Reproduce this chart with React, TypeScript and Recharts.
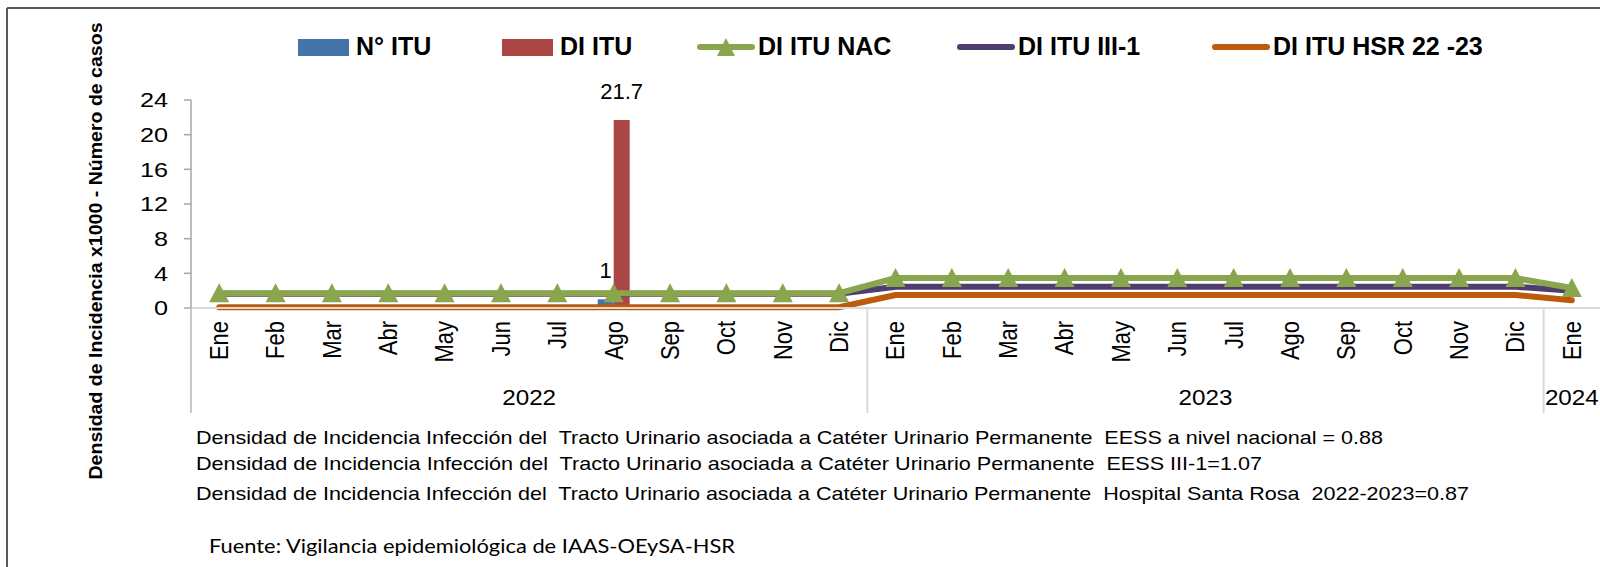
import React from 'react';
import { ComposedChart, Bar, Line, XAxis, YAxis, Legend, LabelList } from 'recharts';

const MONTHS = [
  'Ene', 'Feb', 'Mar', 'Abr', 'May', 'Jun', 'Jul', 'Ago', 'Sep', 'Oct', 'Nov', 'Dic',
  'Ene', 'Feb', 'Mar', 'Abr', 'May', 'Jun', 'Jul', 'Ago', 'Sep', 'Oct', 'Nov', 'Dic',
  'Ene',
];
const YEARS = [
  '2022', '2022', '2022', '2022', '2022', '2022', '2022', '2022', '2022', '2022', '2022', '2022',
  '2023', '2023', '2023', '2023', '2023', '2023', '2023', '2023', '2023', '2023', '2023', '2023',
  '2024',
];
const N_ITU = [0, 0, 0, 0, 0, 0, 0, 1, 0, 0, 0, 0, 0, 0, 0, 0, 0, 0, 0, 0, 0, 0, 0, 0, 0];
const DI_ITU = [0, 0, 0, 0, 0, 0, 0, 21.7, 0, 0, 0, 0, 0, 0, 0, 0, 0, 0, 0, 0, 0, 0, 0, 0, 0];
const DI_NAC = [
  1.7, 1.7, 1.7, 1.7, 1.7, 1.7, 1.7, 1.7, 1.7, 1.7, 1.7, 1.7,
  3.45, 3.45, 3.45, 3.45, 3.45, 3.45, 3.45, 3.45, 3.45, 3.45, 3.45, 3.45,
  2.3,
];
const DI_III1 = [
  1.65, 1.65, 1.65, 1.65, 1.65, 1.65, 1.65, 1.65, 1.65, 1.65, 1.65, 1.65,
  2.45, 2.45, 2.45, 2.45, 2.45, 2.45, 2.45, 2.45, 2.45, 2.45, 2.45, 2.45,
  2.0,
];
const DI_HSR = [
  0.1, 0.1, 0.1, 0.1, 0.1, 0.1, 0.1, 0.1, 0.1, 0.1, 0.1, 0.1,
  1.5, 1.5, 1.5, 1.5, 1.5, 1.5, 1.5, 1.5, 1.5, 1.5, 1.5, 1.5,
  0.9,
];
const Y_TICKS = [0, 4, 8, 12, 16, 20, 24];

const SERIES_NAMES = ['N° ITU', 'DI ITU', 'DI ITU NAC', 'DI ITU III-1', 'DI ITU HSR 22 -23'];
const COLORS = {
  nItu: '#4572A7',
  diItu: '#AA4643',
  nac: '#89A54E',
  iii1: '#4F3D6E',
  hsr: '#BE5A0C',
};

const Y_TITLE = 'Densidad de Incidencia x1000 - Número de casos';
const NOTES = [
  'Densidad de Incidencia Infección del  Tracto Urinario asociada a Catéter Urinario Permanente  EESS a nivel nacional = 0.88',
  'Densidad de Incidencia Infección del  Tracto Urinario asociada a Catéter Urinario Permanente  EESS III-1=1.07',
  'Densidad de Incidencia Infección del  Tracto Urinario asociada a Catéter Urinario Permanente  Hospital Santa Rosa  2022-2023=0.87',
];
const SOURCE = 'Fuente: Vigilancia epidemiológica de IAAS-OEySA-HSR';

const data = MONTHS.map((m, i) => ({
  month: m,
  year: YEARS[i],
  nItu: N_ITU[i],
  diItu: DI_ITU[i],
  nac: DI_NAC[i],
  iii1: DI_III1[i],
  hsr: DI_HSR[i],
}));

const FONT = "'Liberation Sans', Arial, sans-serif";
const W = 1600;
const H = 567;
const PLOT_LEFT = 191;
const PLOT_TOP = 100;
const PLOT_BOTTOM = 308;
const BAND = (W - PLOT_LEFT) / MONTHS.length;

const Triangle = (props: any) => {
  const { cx, cy } = props;
  if (cx == null || cy == null) return null;
  return (
    <polygon
      points={`${cx},${cy - 10} ${cx - 10},${cy + 9} ${cx + 10},${cy + 9}`}
      fill={COLORS.nac}
      stroke="none"
    />
  );
};

const YTick = (props: any) => {
  const { x, y, payload } = props;
  return (
    <text
      transform={`translate(${x},${y}) scale(1.2,1)`}
      textAnchor="end"
      dy="0.35em"
      fontSize={21}
      fontFamily={FONT}
      fill="#000"
    >
      {payload.value}
    </text>
  );
};

const MonthTick = (props: any) => {
  const { x, y, index, payload } = props;
  const half = payload && typeof payload.offset === 'number' && payload.offset > 0 ? payload.offset : BAND / 2;
  const year = YEARS[index];
  const isFirst = index === 0 || YEARS[index - 1] !== year;
  let groupLen = 0;
  for (let j = index; j < YEARS.length && YEARS[j] === year; j++) groupLen++;
  const axisY = y - 13;
  return (
    <g>
      <text
        transform={`translate(${x},${y}) scale(1.15,1) rotate(-90)`}
        textAnchor="end"
        dy="0.35em"
        fontSize={22}
        fontFamily={FONT}
        fill="#000"
      >
        {payload.value}
      </text>
      {isFirst && (
        <line
          x1={x - half}
          x2={x - half}
          y1={axisY}
          y2={axisY + 105}
          stroke={index === 0 ? '#c8c8c8' : '#d9d9d9'}
          strokeWidth={2}
        />
      )}
      {isFirst && (
        <text
          transform={`translate(${x + (groupLen - 1) * half},${axisY + 97}) scale(1.1,1)`}
          textAnchor="middle"
          fontSize={22}
          fontFamily={FONT}
          fill="#000"
        >
          {year}
        </text>
      )}
    </g>
  );
};

const BarLabel = (props: any) => {
  const { x, y, width, value } = props;
  if (!value) return null;
  return (
    <text
      x={x + width / 2}
      y={y - 21}
      textAnchor="middle"
      fontSize={22}
      fontFamily={FONT}
      fill="#000"
    >
      {value}
    </text>
  );
};

const LEGEND_X = [298, 502, 698, 958, 1213];
const LEGEND_KEYS: (keyof typeof COLORS)[] = ['nItu', 'diItu', 'nac', 'iii1', 'hsr'];

const LegendContent = () => (
  <svg width={W} height={70} style={{ display: 'block' }}>
    {SERIES_NAMES.map((name, i) => {
      const x = LEGEND_X[i];
      const color = COLORS[LEGEND_KEYS[i]];
      const isBar = i < 2;
      return (
        <g key={name}>
          {isBar ? (
            <rect x={x} y={39} width={51} height={17} fill={color} />
          ) : (
            <line x1={x + 2} x2={x + 54} y1={47} y2={47} stroke={color} strokeWidth={6} strokeLinecap="round" />
          )}
          {i === 2 && (
            <polygon points={`${x + 28},${38} ${x + 19},${56} ${x + 37},${56}`} fill={color} />
          )}
          <text
            x={isBar ? x + 58 : x + 60}
            y={55}
            fontSize={25}
            fontWeight="bold"
            fontFamily={FONT}
            fill="#000"
          >
            {name}
          </text>
        </g>
      );
    })}
  </svg>
);

export default function App() {
  return (
    <div style={{ position: 'absolute', left: 0, top: 0, width: W, height: H, background: '#fff', overflow: 'hidden' }}>
      <ComposedChart
        width={W}
        height={H}
        data={data}
        margin={{ top: PLOT_TOP, right: 0, left: 0, bottom: 0 }}
        barGap={0}
        barCategoryGap="21.6%"
      >
        <XAxis
          dataKey="month"
          interval={0}
          height={H - PLOT_BOTTOM}
          tickSize={0}
          tickMargin={13}
          axisLine={{ stroke: '#d9d9d9', strokeWidth: 2 }}
          tickLine={false}
          tick={<MonthTick />}
        />
        <YAxis
          width={PLOT_LEFT}
          domain={[0, 24]}
          ticks={Y_TICKS}
          interval={0}
          tickSize={7}
          tickMargin={16}
          axisLine={{ stroke: '#a6a6a6', strokeWidth: 1.5 }}
          tickLine={{ stroke: '#a6a6a6', strokeWidth: 1.5 }}
          tick={<YTick />}
        />
        <Legend
          layout="horizontal"
          verticalAlign="middle"
          align="center"
          content={<LegendContent />}
          wrapperStyle={{ position: 'absolute', left: 0, top: 0, width: W, height: 70 }}
        />
        <Bar dataKey="nItu" name={SERIES_NAMES[0]} fill={COLORS.nItu} isAnimationActive={false}>
          <LabelList dataKey="nItu" content={<BarLabel />} />
        </Bar>
        <Bar dataKey="diItu" name={SERIES_NAMES[1]} fill={COLORS.diItu} isAnimationActive={false}>
          <LabelList dataKey="diItu" content={<BarLabel />} />
        </Bar>
        <Line
          type="linear"
          dataKey="hsr"
          name={SERIES_NAMES[4]}
          stroke={COLORS.hsr}
          strokeWidth={6}
          strokeLinecap="round"
          dot={false}
          activeDot={false}
          isAnimationActive={false}
        />
        <Line
          type="linear"
          dataKey="iii1"
          name={SERIES_NAMES[3]}
          stroke={COLORS.iii1}
          strokeWidth={6}
          strokeLinecap="round"
          dot={false}
          activeDot={false}
          isAnimationActive={false}
        />
        <Line
          type="linear"
          dataKey="nac"
          name={SERIES_NAMES[2]}
          stroke={COLORS.nac}
          strokeWidth={6}
          strokeLinecap="round"
          dot={<Triangle />}
          activeDot={false}
          isAnimationActive={false}
        />
      </ComposedChart>
      <svg
        width={W}
        height={H}
        style={{ position: 'absolute', left: 0, top: 0, pointerEvents: 'none' }}
      >
        <line x1={7} x2={W} y1={8} y2={8} stroke="#595959" strokeWidth={2} />
        <line x1={7} x2={7} y1={8} y2={H} stroke="#595959" strokeWidth={2} />
        <text
          transform="translate(96,251) rotate(-90)"
          textAnchor="middle"
          dy="0.35em"
          fontSize={18}
          fontWeight="bold"
          fontFamily={FONT}
          textLength={457}
          lengthAdjust="spacingAndGlyphs"
          fill="#000"
        >
          {Y_TITLE}
        </text>
        {NOTES.map((t, i) => (
          <text
            key={i}
            x={196}
            y={[444, 470, 500][i]}
            fontSize={19}
            fontFamily={FONT}
            textLength={[1187, 1066, 1273][i]}
            lengthAdjust="spacingAndGlyphs"
            style={{ whiteSpace: 'pre' }}
            fill="#000"
          >
            {t}
          </text>
        ))}
        <text
          x={209}
          y={553}
          fontSize={19}
          fontFamily="Lato, 'Liberation Sans', sans-serif"
          textLength={526}
          lengthAdjust="spacingAndGlyphs"
          fill="#000"
        >
          {SOURCE}
        </text>
      </svg>
    </div>
  );
}
